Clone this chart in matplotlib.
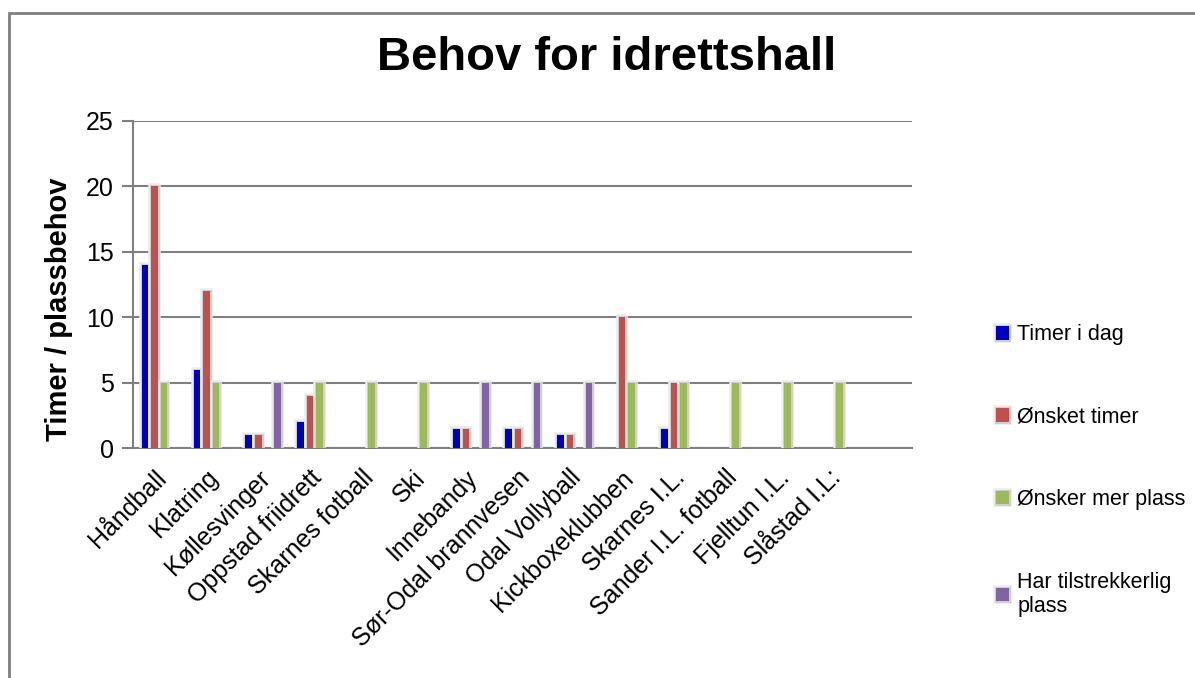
import numpy as np
import matplotlib
matplotlib.use("Agg")
import matplotlib.pyplot as plt
import matplotlib.patheffects as pe
import matplotlib.transforms as mtrans
from matplotlib.patches import Rectangle

plt.rcParams["font.family"] = ["Liberation Sans", "DejaVu Sans"]

categories = ["Håndball", "Klatring", "Køllesvinger", "Oppstad friidrett", "Skarnes fotball",
              "Ski", "Innebandy", "Sør-Odal brannvesen", "Odal Vollyball", "Kickboxeklubben",
              "Skarnes I.L.", "Sander I.L. fotball", "Fjelltun I.L.", "Slåstad I.L:", ""]
nan = np.nan
timer_i_dag = [14, 6, 1, 2, nan, nan, 1.5, 1.5, 1, nan, 1.5, nan, nan, nan, nan]
onsket_timer = [20, 12, 1, 4, nan, nan, 1.5, 1.5, 1, 10, 5, nan, nan, nan, nan]
onsker_mer_plass = [5, 5, nan, 5, 5, 5, nan, nan, nan, 5, 5, 5, 5, 5, nan]
har_plass = [nan, nan, 5, nan, nan, nan, 5, 5, 5, nan, nan, nan, nan, nan, nan]

series = [
    ("Timer i dag", timer_i_dag, "#0000C0"),
    ("Ønsket timer", onsket_timer, "#C0504D"),
    ("Ønsker mer plass", onsker_mer_plass, "#9BBB59"),
    ("Har tilstrekkerlig\nplass", har_plass, "#8064A2"),
]

fig = plt.figure(figsize=(11.95, 6.78), dpi=100)
ax = fig.add_axes([0.1115, 0.339, 0.652, 0.483])

x = np.arange(len(categories))
slot = 0.183
# soft grey halo round each bar
glow = [pe.Stroke(linewidth=4, foreground="#ececec"),
        pe.Stroke(linewidth=2.2, foreground="#cfcfcf"),
        pe.Normal()]
for i, (name, vals, col) in enumerate(series):
    bars = ax.bar(x + (i - 1.5) * slot, vals, width=0.13, color=col, label=name, zorder=3)
    for b in bars:
        b.set_path_effects(glow)

ax.set_xlim(-0.5, len(categories) - 0.5)
ax.set_ylim(0, 25)
ax.set_yticks([0, 5, 10, 15, 20, 25])
ax.yaxis.grid(True, color="#7f7f7f", linewidth=1.5, zorder=0)
ax.set_axisbelow(True)
for s in ["top", "right"]:
    ax.spines[s].set_visible(False)
for s in ["left", "bottom"]:
    ax.spines[s].set_color("#7f7f7f")
    ax.spines[s].set_linewidth(1.5)
ax.tick_params(axis="y", length=8, width=1.5, color="#7f7f7f", labelsize=18, pad=6)
ax.tick_params(axis="x", length=0, pad=10)
ax.set_xticks(x)
ax.set_xticklabels(categories, rotation=45, ha="right", va="center",
                   rotation_mode="anchor", fontsize=18)
shift = mtrans.ScaledTranslation(3 / 100, -12 / 100, fig.dpi_scale_trans)
for lab in ax.get_xticklabels():
    lab.set_transform(lab.get_transform() + shift)

fig.text(0.508, 0.915, "Behov for idrettshall", ha="center", va="center",
         fontsize=34, fontweight="bold")
fig.text(0.049, 0.544, "Timer / plassbehov", ha="center", va="center",
         rotation=90, fontsize=21, fontweight="bold")

leg = ax.legend(loc="upper left", bbox_to_anchor=(0.817, 0.55), bbox_transform=fig.transFigure,
                frameon=False, fontsize=15.5, handlelength=0.6, handleheight=0.6,
                handletextpad=0.4, labelspacing=2.85)

fig.patches.append(Rectangle((9 / 1195, -0.05), 1.2, 1 - 13 / 678 + 0.05,
                             transform=fig.transFigure, fill=False,
                             edgecolor="#7f7f7f", linewidth=2))

fig.savefig("out.png", dpi=100)
